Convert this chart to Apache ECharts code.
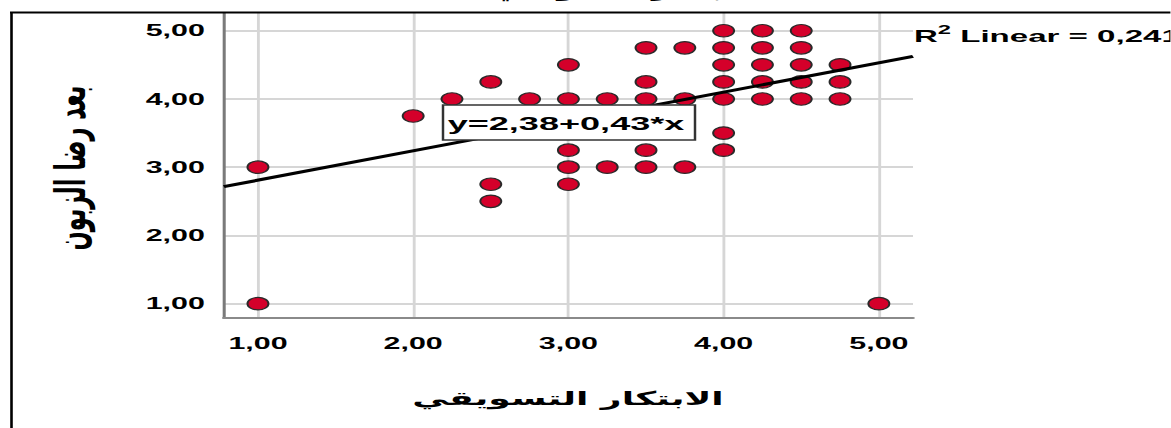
<!DOCTYPE html>
<html>
<head>
<meta charset="utf-8">
<script src="https://cdn.jsdelivr.net/npm/echarts@6/dist/echarts.min.js"></script>
<style>
  html, body { margin: 0; padding: 0; background: #fff; overflow: hidden; width: 1171px; height: 428px; }
  #wrap { position: relative; width: 1171px; height: 428px; overflow: hidden; background: #fff; }
  #chart { position: absolute; left: 0; top: 0; height: 428px; transform-origin: 0 0; }
</style>
</head>
<body>
<div id="wrap"><div id="chart"></div></div>
<script>
// The figure is drawn at a narrower width, then widened horizontally as a whole
const STRETCH = 1.9;
const PAGE_W = 1171;
const PAGE_H = 428;
const innerW = PAGE_W / STRETCH;
const sx = v => v / STRETCH;

// Scores of each respondent: marketing innovation (x) against customer satisfaction (y)
const xScores = [1.00, 1.00, 2.00, 2.25, 2.50, 2.50, 2.50, 2.75,
                 3.00, 3.00, 3.00, 3.00, 3.00, 3.25, 3.25,
                 3.50, 3.50, 3.50, 3.50, 3.50, 3.75, 3.75, 3.75,
                 4.00, 4.00, 4.00, 4.00, 4.00, 4.00, 4.00,
                 4.25, 4.25, 4.25, 4.25, 4.25,
                 4.50, 4.50, 4.50, 4.50, 4.50,
                 4.75, 4.75, 4.75, 5.00];
const yScores = [3.00, 1.00, 3.75, 4.00, 4.25, 2.75, 2.50, 4.00,
                 4.50, 4.00, 3.25, 3.00, 2.75, 4.00, 3.00,
                 4.75, 4.25, 4.00, 3.25, 3.00, 4.75, 4.00, 3.00,
                 5.00, 4.75, 4.50, 4.25, 4.00, 3.50, 3.25,
                 5.00, 4.75, 4.50, 4.25, 4.00,
                 5.00, 4.75, 4.50, 4.25, 4.00,
                 4.50, 4.25, 4.00, 1.00];

const xTicks = [1, 2, 3, 4, 5];
const yTicks = [1, 2, 3, 4, 5];
const xRange = [0.78, 5.22];
const yRange = [0.79, 5.26];

// Linear fit
const fitIntercept = 2.38;
const fitSlope = 0.43;
const fitR2 = 0.241;

const xTitle = 'الابتكار التسويقي';
const yTitle = 'بعد رضا الزبون';
const topTitle = 'الابتكار التسويقي';

const comma = (v, d) => v.toFixed(d).replace('.', ',');

const points = xScores.map((x, i) => [x, yScores[i]]);
const fitLine = xRange.map(x => [x, fitIntercept + fitSlope * x]);
const eqText = 'y=' + comma(fitIntercept, 2) + '+' + comma(fitSlope, 2) + '*x';

const el = document.getElementById('chart');
el.style.width = innerW + 'px';
el.style.transform = 'scaleX(' + STRETCH + ')';

const chart = echarts.init(el, null, { renderer: 'svg', width: innerW, height: PAGE_H });

const latin = '"Liberation Sans", Arial, sans-serif';
const arabic = '"DejaVu Sans", sans-serif';
const ellipse = 'path://M0,50 A50,50 0 1,1 100,50 A50,50 0 1,1 0,50 Z';

chart.setOption({
  animation: false,
  backgroundColor: '#ffffff',
  grid: {
    left: sx(223.8),
    right: innerW - sx(913),
    top: 13,
    bottom: PAGE_H - 318,
    containLabel: false
  },
  xAxis: {
    type: 'value',
    min: xRange[0],
    max: xRange[1],
    axisLine: { show: true, lineStyle: { color: '#8a8a8a', width: 2 } },
    axisTick: { show: false, customValues: xTicks },
    splitLine: { show: true, customValues: xTicks, lineStyle: { color: '#d6d6d6', width: 1.5 } },
    axisLabel: {
      customValues: xTicks,
      formatter: v => comma(v, 2),
      color: '#000', fontWeight: 'bold', fontSize: 16, fontFamily: latin, margin: 17
    }
  },
  yAxis: {
    type: 'value',
    min: yRange[0],
    max: yRange[1],
    axisLine: { show: true, lineStyle: { color: '#7a7a7a', width: 1.6 } },
    axisTick: { show: false, customValues: yTicks },
    splitLine: { show: true, customValues: yTicks, lineStyle: { color: '#d6d6d6', width: 2 } },
    axisLabel: {
      customValues: yTicks,
      formatter: v => comma(v, 2),
      color: '#000', fontWeight: 'bold', fontSize: 16, fontFamily: latin, margin: sx(19)
    }
  },
  series: [
    {
      type: 'scatter',
      data: points,
      symbol: ellipse,
      symbolSize: [sx(21), 12.5],
      itemStyle: { color: '#d4002a', borderColor: '#2a2a2a', borderWidth: 1.1, opacity: 1 },
      z: 2
    },
    {
      type: 'line',
      data: fitLine,
      symbol: 'none',
      lineStyle: { color: '#000', width: 3 },
      z: 3
    }
  ],
  graphic: [
    // fit equation box
    {
      type: 'rect',
      z: 100,
      shape: { x: sx(443), y: 105, width: sx(695 - 443), height: 35 },
      style: { fill: '#ffffff', stroke: '#333', lineWidth: 1.3 }
    },
    {
      type: 'text',
      z: 101,
      x: sx(566), y: 123,
      style: {
        text: eqText, fill: '#000',
        font: 'bold 19px ' + latin,
        textAlign: 'center', align: 'center',
        textVerticalAlign: 'middle', verticalAlign: 'middle'
      }
    },
    // R squared label
    {
      type: 'text',
      z: 100,
      x: sx(914), y: 34,
      style: {
        text: '{b|R}{s|2}{b| Linear = ' + comma(fitR2, 3) + '}',
        fill: '#000',
        textAlign: 'left', align: 'left',
        textVerticalAlign: 'middle', verticalAlign: 'middle',
        rich: {
          b: { fontSize: 17.4, fontWeight: 'bold', fontFamily: latin, fill: '#000', lineHeight: 22, verticalAlign: 'bottom' },
          s: { fontSize: 12.5, fontWeight: 'bold', fontFamily: latin, fill: '#000', lineHeight: 22, verticalAlign: 'top' }
        }
      }
    },
    // axis titles
    {
      type: 'text',
      z: 100,
      x: sx(568), y: 398,
      style: {
        text: xTitle, fill: '#000',
        font: 'bold 19px ' + arabic,
        textAlign: 'center', align: 'center',
        textVerticalAlign: 'middle', verticalAlign: 'middle'
      }
    },
    {
      type: 'text',
      z: 100,
      x: sx(70), y: 168,
      rotation: Math.PI / 2,
      style: {
        text: yTitle, fill: '#000',
        font: 'bold 22.5px ' + arabic,
        textAlign: 'center', align: 'center',
        textVerticalAlign: 'middle', verticalAlign: 'middle'
      }
    },
    // chart heading, mostly above the page edge
    {
      type: 'text',
      z: 100,
      x: sx(493), y: -1,
      style: {
        text: topTitle, fill: '#000',
        font: 'bold 16px ' + arabic,
        textAlign: 'left', align: 'left',
        textVerticalAlign: 'bottom', verticalAlign: 'bottom'
      }
    },
    // page frame
    {
      type: 'line',
      z: 110,
      shape: { x1: sx(10), y1: 12.5, x2: innerW, y2: 12.5 },
      style: { stroke: '#000', lineWidth: 2 }
    },
    {
      type: 'line',
      z: 110,
      shape: { x1: sx(11.5), y1: 12, x2: sx(11.5), y2: PAGE_H },
      style: { stroke: '#000', lineWidth: sx(2.6) }
    }
  ]
});
</script>
</body>
</html>
